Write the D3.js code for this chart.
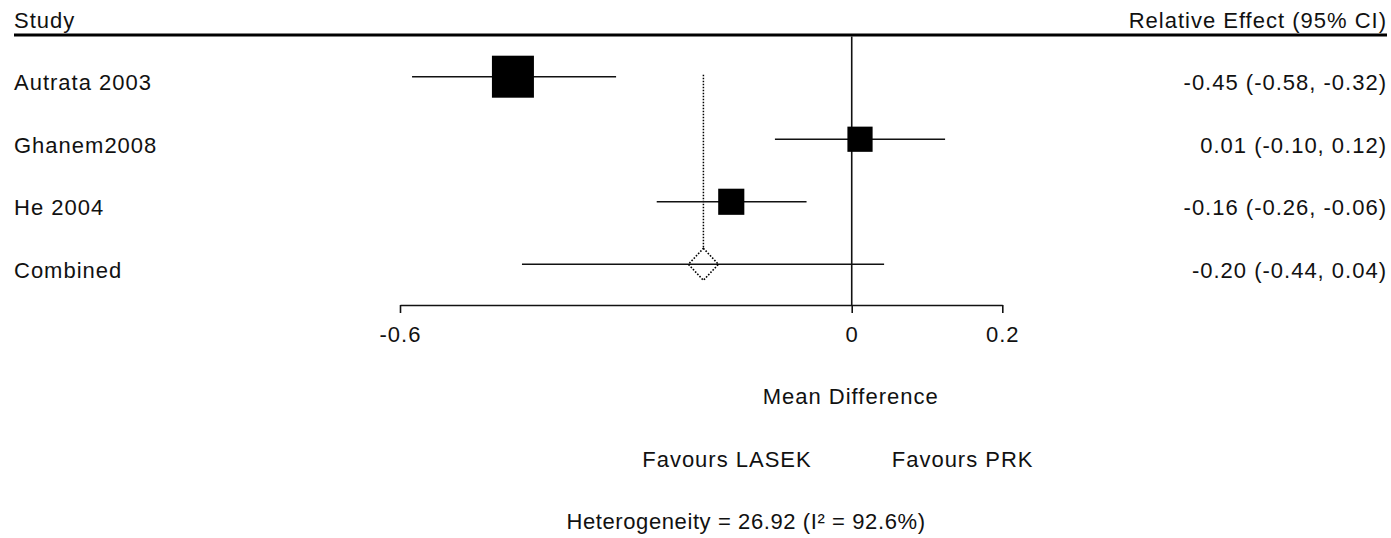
<!DOCTYPE html>
<html>
<head>
<meta charset="utf-8">
<script src="https://cdn.jsdelivr.net/npm/d3@7"></script>
<style>
    body { margin: 0; background: #fff; }
    svg text { font-family: "Liberation Sans", Arial, sans-serif; font-size: 22px; letter-spacing: 1px; fill: #111; }
</style>
</head>
<body>
<div id="chart"></div>
<script>
var studies = ["Autrata 2003", "Ghanem2008", "He 2004", "Combined"];
var est = [-0.45, 0.011, -0.160, -0.197];
var lo = [-0.584, -0.102, -0.259, -0.438];
var hi = [-0.313, 0.124, -0.060, 0.043];
var weights = [45, 27, 28];
var effect_labels = ["-0.45 (-0.58, -0.32)", "0.01 (-0.10, 0.12)", "-0.16 (-0.26, -0.06)", "-0.20 (-0.44, 0.04)"];
var tick_values = [-0.6, 0, 0.2];
var tick_labels = ["-0.6", "0", "0.2"];
var heterogeneity = "Heterogeneity = 26.92 (I\u00b2 = 92.6%)";

var width = 1391, height = 538,
    axis_y = 305,
    header_y = 35;

var svg = d3.select("#chart").append("svg")
    .attr("width", width)
    .attr("height", height);

var xScale = d3.scaleLinear()
    .domain([-0.6, 0.2])
    .range([400, 1002.3]);

var yScale = d3.scalePoint()
    .domain(studies)
    .range([76.7, 264.3]);

var boxScale = d3.scaleLinear()
    .domain([0, 45])
    .range([0, 42]);

var rows = studies.map(function(s, i) {
    return {name: s, est: est[i], lo: lo[i], hi: hi[i], w: weights[i], label: effect_labels[i], pooled: i === studies.length - 1};
});

/* header */
svg.append("text").attr("x", 14).attr("y", 28).text("Study");
svg.append("text").attr("x", 1387).attr("y", 28).attr("text-anchor", "end").text("Relative Effect (95% CI)");
svg.append("line")
    .attr("x1", 14).attr("x2", 1387)
    .attr("y1", header_y).attr("y2", header_y)
    .attr("stroke", "#000").attr("stroke-width", 3);

/* line of no effect */
svg.append("line")
    .attr("x1", xScale(0)).attr("x2", xScale(0))
    .attr("y1", header_y + 1.5).attr("y2", axis_y)
    .attr("stroke", "#111").attr("stroke-width", 1.6);

var pooled = rows[rows.length - 1];
var dh = 16, dw = 15;

/* pooled estimate dotted line */
svg.append("line")
    .attr("x1", xScale(pooled.est)).attr("x2", xScale(pooled.est))
    .attr("y1", yScale(studies[0]) - 2).attr("y2", yScale(pooled.name) - dh)
    .attr("stroke", "#000").attr("stroke-width", 1.5)
    .attr("stroke-dasharray", "1.5,1.5");

var row = svg.selectAll("g.row")
    .data(rows)
    .enter().append("g")
    .attr("class", "row");

row.append("text")
    .attr("x", 14)
    .attr("y", function(d) { return yScale(d.name) + 13.5; })
    .text(function(d) { return d.name; });

row.append("text")
    .attr("x", 1387)
    .attr("y", function(d) { return yScale(d.name) + 13.5; })
    .attr("text-anchor", "end")
    .text(function(d) { return d.label; });

row.append("line")
    .attr("x1", function(d) { return xScale(d.lo); })
    .attr("x2", function(d) { return xScale(d.hi); })
    .attr("y1", function(d) { return yScale(d.name); })
    .attr("y2", function(d) { return yScale(d.name); })
    .attr("stroke", "#111").attr("stroke-width", 1.6);

row.filter(function(d) { return !d.pooled; })
    .append("rect")
    .attr("x", function(d) { return xScale(d.est) - boxScale(d.w) / 2; })
    .attr("y", function(d) { return yScale(d.name) - boxScale(d.w) / 2; })
    .attr("width", function(d) { return boxScale(d.w); })
    .attr("height", function(d) { return boxScale(d.w); })
    .attr("fill", "#000");

row.filter(function(d) { return d.pooled; })
    .append("path")
    .attr("d", function(d) {
        var cx = xScale(d.est), cy = yScale(d.name);
        return "M" + cx + "," + (cy - dh) + "L" + (cx + dw) + "," + cy +
            "L" + cx + "," + (cy + dh) + "L" + (cx - dw) + "," + cy + "Z";
    })
    .attr("fill", "none")
    .attr("stroke", "#000").attr("stroke-width", 1.6)
    .attr("stroke-dasharray", "1.6,1.6");

/* axis */
var xAxis = d3.axisBottom(xScale)
    .tickValues(tick_values)
    .tickSize(8)
    .tickSizeOuter(0)
    .tickPadding(13)
    .tickFormat(function(d, i) { return tick_labels[i]; });

var gx = svg.append("g")
    .attr("transform", "translate(0," + axis_y + ")")
    .call(xAxis);
gx.selectAll("path, line").attr("stroke", "#111").attr("stroke-width", 1.6);
gx.selectAll("text")
    .style("font-family", "'Liberation Sans', Arial, sans-serif")
    .style("font-size", "22px")
    .attr("fill", "#111");

/* footer texts */
svg.append("text")
    .attr("x", xScale(0) - 1).attr("y", 404)
    .attr("text-anchor", "middle")
    .text("Mean Difference");
svg.append("text")
    .attr("x", xScale(0) - 40).attr("y", 467)
    .attr("text-anchor", "end")
    .text("Favours LASEK");
svg.append("text")
    .attr("x", xScale(0) + 40).attr("y", 467)
    .text("Favours PRK");
svg.append("text")
    .attr("x", 746).attr("y", 529)
    .attr("text-anchor", "middle")
    .style("letter-spacing", "0.6px")
    .text(heterogeneity);
</script>
</body>
</html>
